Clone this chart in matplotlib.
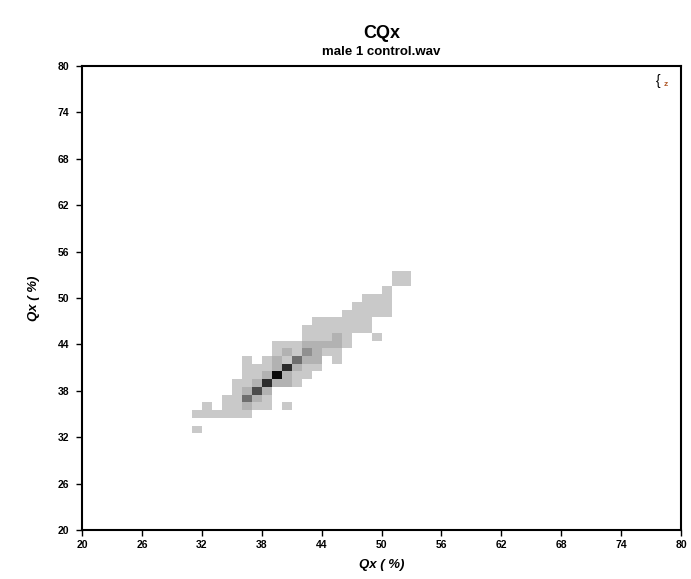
import matplotlib
matplotlib.use("Agg")
import matplotlib.pyplot as plt
import numpy as np
from matplotlib.colors import ListedColormap, BoundaryNorm

plt.rcParams['font.family'] = ['Liberation Sans', 'DejaVu Sans']

# CQx occupancy, one line per Qx(n+1) row: Qx bin (%), cycles in that bin
row_y = [33, 35, 36, 37, 38, 39, 40, 41, 42, 43, 44, 45, 46, 47, 48, 49, 50, 51, 52, 53]
row_x = [
    [31],
    [31, 32, 33, 34, 35, 36],
    [32, 34, 35, 36, 37, 38, 40],
    [34, 35, 36, 37, 38],
    [35, 36, 37, 38],
    [35, 36, 37, 38, 39, 40, 41],
    [36, 37, 38, 39, 40, 41, 42],
    [36, 37, 38, 39, 40, 41, 42, 43],
    [36, 38, 39, 40, 41, 42, 43, 45],
    [39, 40, 41, 42, 43, 44, 45],
    [39, 40, 41, 42, 43, 44, 45, 46],
    [42, 43, 44, 45, 46, 49],
    [42, 43, 44, 45, 46, 47, 48],
    [43, 44, 45, 46, 47, 48],
    [46, 47, 48, 49, 50],
    [47, 48, 49, 50],
    [48, 49, 50],
    [50],
    [51, 52],
    [51, 52],
]
row_n = [
    [1],
    [1, 1, 1, 1, 1, 1],
    [1, 1, 1, 2, 1, 1, 1],
    [1, 1, 4, 2, 1],
    [1, 2, 5, 2],
    [1, 1, 2, 6, 2, 2, 1],
    [1, 1, 2, 7, 2, 1, 1],
    [1, 1, 1, 2, 6, 2, 1, 1],
    [1, 1, 2, 1, 4, 2, 2, 1],
    [1, 2, 1, 3, 2, 1, 1],
    [1, 1, 1, 2, 2, 2, 2, 1],
    [1, 1, 1, 2, 1, 1],
    [1, 1, 1, 1, 1, 1, 1],
    [1, 1, 1, 1, 1, 1],
    [1, 1, 1, 1, 1],
    [1, 1, 1, 1],
    [1, 1, 1],
    [1],
    [1, 1],
    [1, 1],
]

ticks = [20, 26, 32, 38, 44, 50, 56, 62, 68, 74, 80]
grays = ['#c9c9c9', '#b2b2b2', '#909090', '#6e6e6e', '#4c4c4c', '#2c2c2c', '#0a0a0a']

cell_x, cell_y, cell_n = [], [], []
for y, xs, ns in zip(row_y, row_x, row_n):
    for x, n in zip(xs, ns):
        cell_x.append(x + 0.5)
        cell_y.append(y)
        cell_n.append(n)

fig = plt.figure(figsize=(6.91, 5.79), dpi=100)
ax = fig.add_axes([0.1187, 0.0846, 0.8669, 0.8014])

x_edges = np.arange(20, 81, 1.0)
y_edges = np.arange(19.5, 81.5, 1.0)
cmap = ListedColormap(grays)
norm = BoundaryNorm(np.arange(0.5, 8.5, 1.0), cmap.N)
ax.hist2d(cell_x, cell_y, bins=[x_edges, y_edges], weights=cell_n,
          cmin=0.5, cmap=cmap, norm=norm)

ax.set_xlim(20, 80)
ax.set_ylim(20, 80)
ax.set_xticks(ticks)
ax.set_yticks(ticks)
ax.tick_params(direction='out', length=4, width=1, labelsize=7.5, pad=3)
ax.tick_params(axis='y', pad=5)
for lab in ax.get_xticklabels() + ax.get_yticklabels():
    lab.set_fontweight('bold')
for s in ax.spines.values():
    s.set_linewidth(1.5)

ax.set_xlabel('Qx ( %)', fontsize=9.5, fontweight='bold', style='italic', labelpad=7)
ax.set_ylabel('Qx ( %)', fontsize=9.5, fontweight='bold', style='italic', labelpad=13)

fig.text(0.552, 0.943, 'CQx', ha='center', va='center', fontsize=13, fontweight='bold')
fig.text(0.552, 0.910, 'male 1 control.wav', ha='center', va='center', fontsize=9.5,
         fontweight='bold')

ax.text(0.962, 0.982, '{', transform=ax.transAxes, ha='center', va='top', fontsize=10)
ax.text(0.975, 0.968, 'z', transform=ax.transAxes, ha='center', va='top', fontsize=6,
        fontweight='bold', color='#b05a2a')

fig.savefig('out.png', dpi=100)
